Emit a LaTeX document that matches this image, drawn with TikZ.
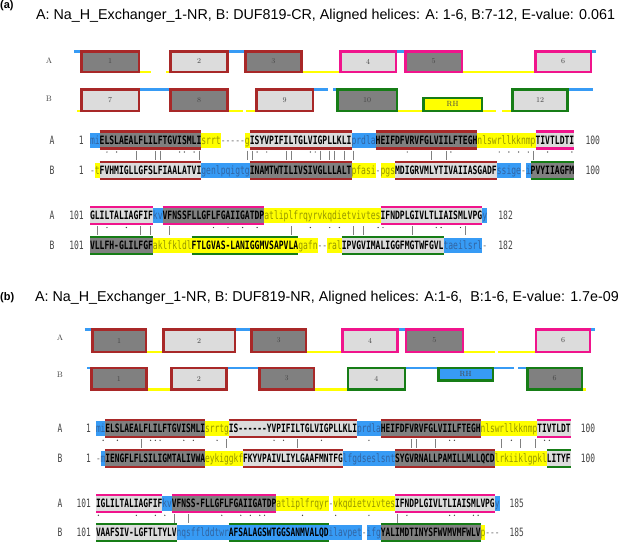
\documentclass[tikz,border=0pt]{standalone}
\usepackage{fontspec}
\newfontfamily\ttlfont{Liberation Sans}
\newfontfamily\sqa[FakeStretch=0.6995]{DejaVu Sans Mono}
\newfontfamily\sqb[FakeStretch=0.6856]{DejaVu Sans Mono}
\definecolor{hred}{RGB}{168,40,40}
\definecolor{hpink}{RGB}{240,20,140}
\definecolor{hgreen}{RGB}{22,125,22}
\definecolor{dgray}{RGB}{128,128,128}
\definecolor{lgray}{RGB}{220,220,220}
\definecolor{lblue}{RGB}{55,155,245}
\definecolor{yel}{RGB}{255,255,0}
\definecolor{ytext}{RGB}{150,150,0}
\definecolor{btext}{RGB}{50,100,160}
\definecolor{lbltext}{RGB}{70,70,70}
\def\sqfont{\sqcur\fontsize{11.5}{12}\selectfont}
\def\sqfontb{\sqcur\bfseries\fontsize{11.5}{12}\selectfont}
\let\sqcur\sqa
\def\xo{90}\def\cw{4.843}
% loop segment: name, y, idx, text, bg, fg
\newcommand\Lp[6]{\node[sq,fill=#5,text=#6] (#1) at ({\xo+#3*\cw},#2) {#4};}
% helix segment: name, y, idx, text, fill, line colour
\newcommand\Hx[6]{\node[sqh,fill=#5] (#1) at ({\xo+#3*\cw},#2) {#4};
  \draw[line width=2.5pt,#6] (#1.north west) -- (#1.north east) (#1.south west) -- (#1.south east);}
% gap: name, y, idx, text
\newcommand\Gp[4]{\node[sq,text=gray] (#1) at ({\xo+#3*\cw},#2) {#4};}
% marks: yA, dots, lines
\newcommand\Marks[3]{%
  \foreach \i in {#2} {\fill[black!75] ({\xo+(\i+0.5)*\cw},#1+12) circle (0.7pt);}
  \foreach \i in {#3} {\draw[gray,line width=0.9pt] ({\xo+(\i+0.5)*\cw},#1+10.5) -- ({\xo+(\i+0.5)*\cw},#1+19.5);}}
% bar box: name, x1, x2, y1, y2, fill, border, label
\newcommand\Bx[8]{\node[tmb,fill=#6,draw=#7,minimum width={#3-#2-2.5},minimum height={#5-#4-2.5}] (#1) at ({(#2+#3)/2},{(#4+#5)/2}) {#8};}
\newcommand\LB[3]{\draw[line width=2.5pt,lblue] (#1,#3) -- (#2,#3);}
\newcommand\LY[3]{\draw[line width=2.5pt,yel] (#1,#3) -- (#2,#3);}
\begin{document}
\begin{tikzpicture}[x=1pt,y=-1pt,
  sq/.style={anchor=west,inner sep=0pt,outer sep=0pt,minimum height=15pt,text height=8.4pt,text depth=0pt,font=\sqfont},
  sqh/.style={sq,minimum height=17pt,text=black,font=\sqfontb},
  numl/.style={inner sep=0pt,text height=8.4pt,text depth=0pt,font=\sqfont,text=lbltext},
  tmb/.style={inner sep=0pt,line width=2.5pt,font=\rmfamily\fontsize{7.5}{8}\selectfont,text=lbltext},
  barl/.style={inner sep=0pt,font=\rmfamily\fontsize{8}{9}\selectfont,text=lbltext},
  ttl/.style={anchor=west,inner sep=0pt,font=\ttlfont\fontsize{14.3}{16}\selectfont},
  ttlb/.style={anchor=west,inner sep=0pt,font=\ttlfont\bfseries\fontsize{11}{13}\selectfont}]
\useasboundingbox (0,0) rectangle (626,544);
\fill[white] (0,0) rectangle (626,544);
% ================= panel (a) =================
\node[ttlb] (pa) at (0,6) {(a)};
\node[ttl] (ta) at (36,16) {A: Na\_H\_Exchanger\_1-NR, B: DUF819-CR, Aligned helices: A: 1-6, B:7-12, E-value: 0.061};
\node[barl] (ra) at (49,61) {A};
\node[barl] (rb) at (49,99) {B};
% row A loops
\LB{74}{80}{51.25}
\LY{140}{151.2}{71.75}\LY{166}{169.2}{71.75}
\LB{228.8}{244}{51.25}
\LY{302.8}{339.2}{71.75}
\LB{397.2}{404}{51.25}
\LY{463.2}{534}{71.75}
\LB{592}{596}{51.25}
\Bx{a1}{80}{140}{50}{73}{dgray}{hred}{1}
\Bx{a2}{169.2}{228.8}{50}{73}{lgray}{hred}{2}
\Bx{a3}{244}{302.8}{50}{73}{dgray}{hred}{3}
\Bx{a4}{339.2}{397.2}{50}{73}{lgray}{hpink}{4}
\Bx{a5}{404}{463.2}{50}{73}{dgray}{hpink}{5}
\Bx{a6}{534}{592}{50}{73}{lgray}{hpink}{6}
% row B loops
\LY{77.2}{80}{110.75}
\LB{140}{169.2}{89.25}
\LY{228.8}{243.2}{110.75}\LY{246}{255.2}{110.75}
\LB{314}{328}{89.25}\LB{333.2}{336}{89.25}
\LY{398}{422}{110.75}
\LY{483.2}{496}{110.75}\LY{502}{511.2}{110.75}
\LB{568.8}{592.8}{89.25}
\Bx{b7}{80}{140}{88}{112}{lgray}{hred}{7}
\Bx{b8}{169.2}{228.8}{88}{112}{dgray}{hred}{8}
\Bx{b9}{255.2}{314}{88}{112}{lgray}{hred}{9}
\Bx{b10}{336}{398}{88}{112}{dgray}{hgreen}{10}
\Bx{brh}{422}{483.2}{96.5}{112}{yel}{hgreen}{RH}
\Bx{b12}{511.2}{568.8}{88}{112}{lgray}{hgreen}{12}
% sequence block 1
\node[numl] (sa1) at (52,140) {A};
\node[numl,anchor=east] (na1) at (84,140) {1};
\node[numl] (sb1) at (52,170.5) {B};
\node[numl,anchor=east] (nb1) at (84,170.5) {1};
\Lp{s1}{140}{0}{mi}{lblue}{btext}
\Hx{s2}{140}{2}{ELSLAEALFLILFTGVISMLI}{dgray}{hred}
\Lp{s3}{140}{23}{srrt}{yel}{ytext}
\Gp{s4}{140}{27}{-----}
\Lp{s5}{140}{32}{g}{yel}{ytext}
\Hx{s6}{140}{33}{ISYVPIFILTGLVIGPLLKLI}{lgray}{hred}
\Lp{s7}{140}{54}{prdla}{lblue}{btext}
\Hx{s8}{140}{59}{HEIFDFVRVFGLVIILFTEGH}{dgray}{hred}
\Lp{s9}{140}{80}{nlswrllkknmp}{yel}{ytext}
\Hx{s10}{140}{92}{TIVTLDTI}{lgray}{hpink}
\node[numl,anchor=west] (ea1) at ({\xo+100*\cw+11},140) {100};
\Gp{t1}{170.5}{0}{-}
\Lp{t2}{170.5}{1}{t}{yel}{ytext}
\Hx{t3}{170.5}{2}{FVHMIGLLGFSLFIAALATVI}{lgray}{hred}
\Lp{t4}{170.5}{23}{genlpqigtg}{lblue}{btext}
\Hx{t5}{170.5}{33}{INAMTWTILIVSIVGLLLALT}{dgray}{hred}
\Lp{t6}{170.5}{54}{pfasi}{yel}{ytext}
\Gp{t7}{170.5}{59}{-}
\Lp{t8}{170.5}{60}{pgs}{yel}{ytext}
\Hx{t9}{170.5}{63}{MDIGRVMLYTIVAIIASGADF}{lgray}{hred}
\Lp{t10}{170.5}{84}{ssige}{lblue}{btext}
\Gp{t11}{170.5}{89}{-}
\Lp{t12}{170.5}{90}{i}{lblue}{btext}
\Hx{t13}{170.5}{91}{PVYIIAGFM}{dgray}{hgreen}
\node[numl,anchor=west] (eb1) at ({\xo+100*\cw+11},170.5) {100};
\Marks{140}{3,5,18,19,21,34,36,45,46,65,74,84,86,88,90,94,99}{9,13,14,22,32,33,40,41,47,49,50,52,54,70,73,91}
% sequence block 2
\node[numl] (sa2) at (52,215.5) {A};
\node[numl,anchor=east] (na2) at (84,215.5) {101};
\node[numl] (sb2) at (52,245.5) {B};
\node[numl,anchor=east] (nb2) at (84,245.5) {101};
\Hx{u1}{215.5}{0}{GLILTALIAGFIF}{lgray}{hpink}
\Lp{u2}{215.5}{13}{kv}{lblue}{btext}
\Hx{u3}{215.5}{15}{VFNSSFLLGFLFGAIIGATDP}{dgray}{hpink}
\Lp{u4}{215.5}{36}{atliplfrqyrvkqdietvivtes}{yel}{ytext}
\Hx{u5}{215.5}{60}{IFNDPLGIVLTLIAISMLVPG}{lgray}{hpink}
\Lp{u6}{215.5}{81}{y}{lblue}{btext}
\node[numl,anchor=west] (ea2) at ({\xo+82*\cw+11},215.5) {182};
\Hx{v1}{245.5}{0}{VLLFH-GLILFGF}{dgray}{hgreen}
\Lp{v2}{245.5}{13}{aklfkldl}{yel}{ytext}
\Hx{v3}{245.5}{21}{FTLGVAS-LANIGGMVSAPVLA}{yel}{hgreen}
\Lp{v4}{245.5}{43}{gafn}{yel}{ytext}
\Gp{v5}{245.5}{47}{--}
\Lp{v6}{245.5}{49}{ral}{yel}{ytext}
\Hx{v7}{245.5}{52}{IPVGVIMALIGGFMGTWFGVL}{lgray}{hgreen}
\Lp{v8}{245.5}{73}{taeilsrl}{lblue}{btext}
\Gp{v9}{245.5}{81}{-}
\node[numl,anchor=west] (eb2) at ({\xo+82*\cw+11},245.5) {182};
\Marks{215.5}{3,7,25,28,31,34,45,49,51,59,60,71,72,76}{1,10,12,16,41,54,56,66,77}
% ================= panel (b) =================
\node[ttlb] (pb) at (0,298) {(b)};
\node[ttl] (tb) at (35,298) {A: Na\_H\_Exchanger\_1-NR, B: DUF819-NR, Aligned helices: A:1-6, \ B:1-6, E-value: 1.7e-09};
\node[barl] (rc) at (60,338) {A};
\node[barl] (rd) at (60,375) {B};
\LB{84.8}{91.2}{329.25}
\LY{147.2}{162}{351.75}
\LB{236}{250}{329.25}
\LY{307.2}{341.2}{351.75}
\LB{398.8}{404.8}{329.25}
\LY{464}{495.2}{351.75}\LY{498}{534.8}{351.75}
\LB{591.2}{595.2}{329.25}
\Bx{c1}{91.2}{147.2}{328}{353}{dgray}{hred}{1}
\Bx{c2}{162}{236}{328}{353}{lgray}{hred}{2}
\Bx{c3}{250}{307.2}{328}{353}{dgray}{hred}{3}
\Bx{c4}{341.2}{398.8}{328}{353}{lgray}{hpink}{4}
\Bx{c5}{404.8}{464}{328}{353}{dgray}{hpink}{5}
\Bx{c6}{534.8}{591.2}{328}{353}{lgray}{hpink}{6}
\LB{87.2}{90}{367.75}
\LY{147.7}{170}{389.25}
\LB{227.7}{258.3}{367.75}
\LY{315}{346.7}{389.25}
\LB{406}{437.3}{367.75}
\LB{494}{514}{367.75}\LB{518}{526}{367.75}
\LY{583.3}{586}{389.25}
\Bx{d1}{90}{147.7}{366.5}{390.5}{dgray}{hred}{1}
\Bx{d2}{170}{227.7}{366.5}{390.5}{lgray}{hred}{2}
\Bx{d3}{258.3}{315}{366.5}{390.5}{dgray}{hred}{3}
\Bx{d4}{346.7}{406}{366.5}{390.5}{lgray}{hgreen}{4}
\Bx{drh}{437.3}{494}{366.5}{381.5}{lblue}{hgreen}{RH}
\Bx{d6}{526}{583.3}{366.5}{390.5}{dgray}{hgreen}{6}
\let\sqcur\sqb
\def\xo{96}\def\cw{4.747}
% block 1
\node[numl] (sc1) at (60,428.3) {A};
\node[numl,anchor=east] (nc1) at (91,428.3) {1};
\node[numl] (sd1) at (60,458.3) {B};
\node[numl,anchor=east] (nd1) at (91,458.3) {1};
\Lp{w1}{428.3}{0}{mi}{lblue}{btext}
\Hx{w2}{428.3}{2}{ELSLAEALFLILFTGVISMLI}{dgray}{hred}
\Lp{w3}{428.3}{23}{srrtg}{yel}{ytext}
\Hx{w4}{428.3}{28}{IS------YVPIFILTGLVIGPLLKLI}{lgray}{hred}
\Lp{w5}{428.3}{55}{prdla}{lblue}{btext}
\Hx{w6}{428.3}{60}{HEIFDFVRVFGLVIILFTEGH}{dgray}{hred}
\Lp{w7}{428.3}{81}{nlswrllkknmp}{yel}{ytext}
\Hx{w8}{428.3}{93}{TIVTLDT}{lgray}{hpink}
\node[numl,anchor=west] (ec1) at ({\xo+100*\cw+10},428.3) {100};
\Gp{x1}{458.3}{0}{-}
\Lp{x2}{458.3}{1}{m}{lblue}{btext}
\Hx{x3}{458.3}{2}{IENGFLFLSILIGMTALIVWA}{dgray}{hred}
\Lp{x4}{458.3}{23}{eykiggkf}{yel}{ytext}
\Hx{x5}{458.3}{31}{FKYVPAIVLIYLGAAFMNTFG}{lgray}{hred}
\Lp{x6}{458.3}{52}{lfgdseslsnt}{lblue}{btext}
\Hx{x7}{458.3}{63}{SYGVRNALLPAMILLMLLQCD}{dgray}{hred}
\Lp{x8}{458.3}{84}{lrkiiklgpkl}{yel}{ytext}
\Hx{x9}{458.3}{95}{LITYF}{lgray}{hgreen}
\node[numl,anchor=west] (ed1) at ({\xo+100*\cw+10},458.3) {100};
\Marks{428.3}{1,4,11,12,13,18,20,25,37,39,47,57,74,75,87,94,95}{9,27,42,66,67,71,85,89,92}
% block 2
\node[numl] (sc2) at (60,503.3) {A};
\node[numl,anchor=east] (nc2) at (91,503.3) {101};
\node[numl] (sd2) at (60,532.5) {B};
\node[numl,anchor=east] (nd2) at (91,532.5) {101};
\Hx{y1}{503.3}{0}{IGLILTALIAGFIF}{lgray}{hpink}
\Lp{y2}{503.3}{14}{kv}{lblue}{btext}
\Hx{y3}{503.3}{16}{VFNSS-FLLGFLFGAIIGATDP}{dgray}{hpink}
\Lp{y4}{503.3}{38}{atliplfrqyr}{yel}{ytext}
\Gp{y5}{503.3}{49}{-}
\Lp{y6}{503.3}{50}{vkqdietvivtes}{yel}{ytext}
\Hx{y7}{503.3}{63}{IFNDPLGIVLTLIAISMLVPG}{lgray}{hpink}
\Lp{y8}{503.3}{84}{y}{lblue}{btext}
\node[numl,anchor=west] (ec2) at ({\xo+85*\cw+10},503.3) {185};
\Hx{z1}{532.5}{0}{VAAFSIV-LGFTLTYLV}{lgray}{hgreen}
\Lp{z2}{532.5}{17}{nqsfflddtwr}{lblue}{btext}
\Hx{z3}{532.5}{28}{AFSALAGSWTGGSANMVALQD}{lblue}{hgreen}
\Lp{z4}{532.5}{49}{ilavpet}{lblue}{btext}
\Gp{z5}{532.5}{56}{-}
\Lp{z6}{532.5}{57}{ifg}{lblue}{btext}
\Hx{z7}{532.5}{60}{YALIMDTINYSFWVMVMFWLV}{dgray}{hgreen}
\Lp{z8}{532.5}{81}{p}{yel}{ytext}
\Gp{z9}{532.5}{82}{---}
\node[numl,anchor=west] (ed2) at ({\xo+85*\cw+10},532.5) {185};
\Marks{503.3}{0,8,12,14,26,30,32,34,35,43,50,57,65,74,75,79,80}{16,19,63}
\end{tikzpicture}
\end{document}
